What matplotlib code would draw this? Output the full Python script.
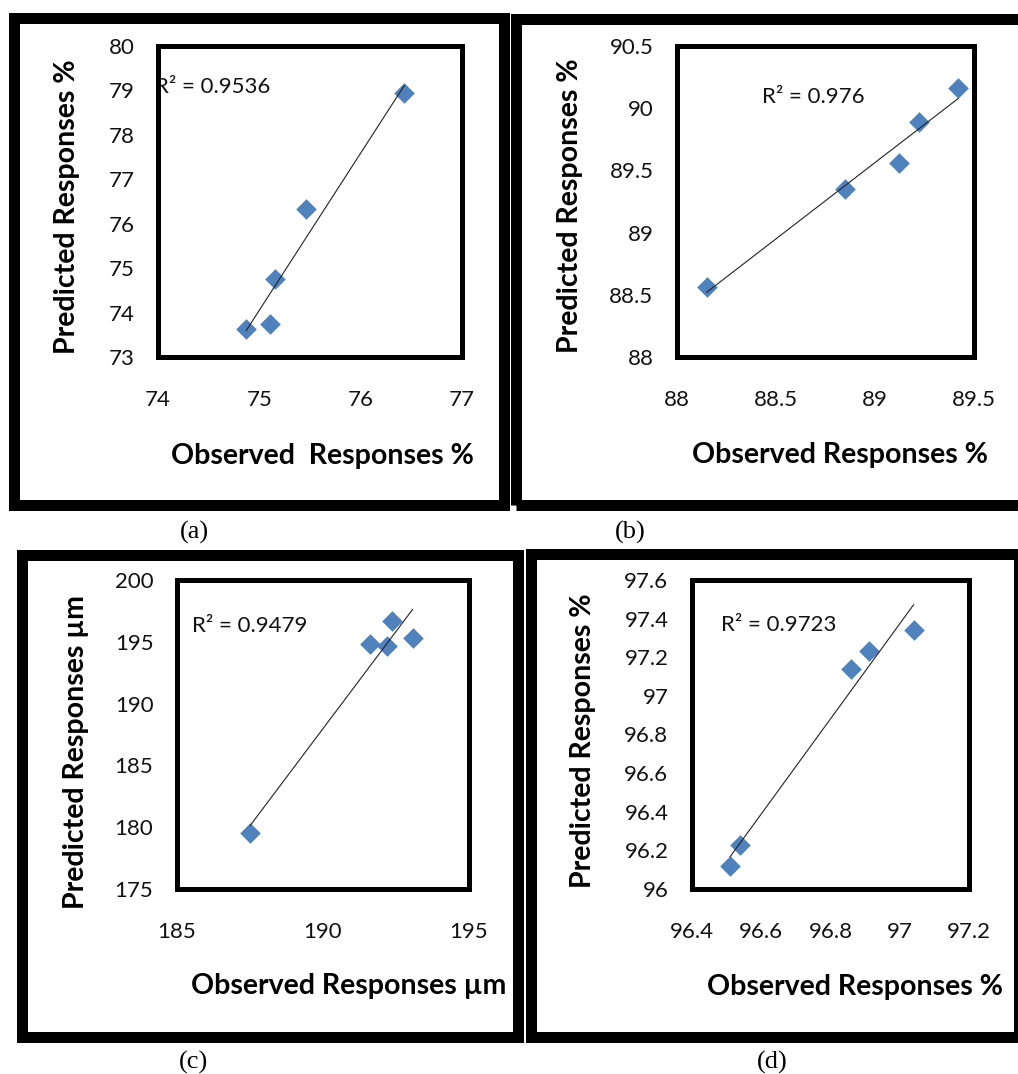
import numpy as np
import matplotlib.pyplot as plt
from matplotlib.patches import Rectangle
from matplotlib.ticker import FuncFormatter

# observed vs predicted responses for the four models
obs_a = [74.87, 75.11, 75.15, 75.46, 76.43]
pred_a = [73.64, 73.75, 74.75, 76.33, 78.94]
obs_b = [88.15, 88.85, 89.12, 89.22, 89.42]
pred_b = [88.56, 89.35, 89.56, 89.89, 90.16]
obs_c = [187.5, 191.6, 192.2, 192.35, 193.07]
pred_c = [179.5, 194.8, 194.7, 196.7, 195.3]
obs_d = [96.51, 96.54, 96.86, 96.91, 97.04]
pred_d = [96.12, 96.23, 97.14, 97.23, 97.34]

xticks_a = [74, 75, 76, 77]
yticks_a = [73, 74, 75, 76, 77, 78, 79, 80]
xticks_b = [88, 88.5, 89, 89.5]
yticks_b = [88, 88.5, 89, 89.5, 90, 90.5]
xticks_c = [185, 190, 195]
yticks_c = [175, 180, 185, 190, 195, 200]
xticks_d = [96.4, 96.6, 96.8, 97.0, 97.2]
yticks_d = [96.0, 96.2, 96.4, 96.6, 96.8, 97.0, 97.2, 97.4, 97.6]

r2_labels = ['0.9536', '0.976', '0.9479', '0.9723']
captions = ['(a)', '(b)', '(c)', '(d)']

W, H = 1018, 1074
fig = plt.figure(figsize=(W / 100, H / 100), dpi=100)

SANS = 'Lato'
SERIF = 'Liberation Serif'
BLUE = '#4F81BD'
TICK_FS = 16
LABEL_FS = 20.5


def fx(px):
    return px / W


def fy(py):
    return 1 - py / H


def frame(x0, y0, x1, y1, t=11):
    # thick black border drawn round each panel
    lw = t * 72 / 100
    r = Rectangle((fx(x0 + t / 2), fy(y1 - t / 2)), (x1 - x0 - t) / W, (y1 - y0 - t) / H,
                  transform=fig.transFigure, fill=False, edgecolor='black',
                  linewidth=lw, joinstyle='miter', clip_on=False)
    fig.add_artist(r)


def panel(box, obs, pred, xticks, yticks, r2, r2_xy, xlabel, xlab_xy, ylabel, ylab_xy):
    x0, y0, x1, y1 = box
    ax = fig.add_axes([fx(x0), fy(y1), (x1 - x0) / W, (y1 - y0) / H])
    ax.scatter(obs, pred, marker='D', s=10.5 ** 2, color=BLUE, linewidths=0, zorder=3)

    # linear trend line over the observed range
    k, b = np.polyfit(obs, pred, 1)
    xs = np.array([min(obs), max(obs)])
    ax.plot(xs, k * xs + b, color='#222222', linewidth=0.8, zorder=4)

    ax.set_xlim(xticks[0], xticks[-1])
    ax.set_ylim(yticks[0], yticks[-1])
    ax.set_xticks(xticks)
    ax.set_yticks(yticks)
    fmt = FuncFormatter(lambda v, p: '%g' % round(v, 3))
    ax.xaxis.set_major_formatter(fmt)
    ax.yaxis.set_major_formatter(fmt)
    ax.tick_params(axis='x', length=0, pad=24, labelsize=TICK_FS, labelcolor='#111111')
    ax.tick_params(axis='y', length=0, pad=17, labelsize=TICK_FS, labelcolor='#111111')
    for lab in ax.get_xticklabels() + ax.get_yticklabels():
        lab.set_fontfamily(SANS)
    for sp in ax.spines.values():
        sp.set_linewidth(3.6)
        sp.set_color('black')

    ax.text(fx(r2_xy[0]), fy(r2_xy[1]), 'R² = ' + r2, transform=fig.transFigure,
            fontsize=TICK_FS, family=SANS, color='#111111', ha='left', va='center', zorder=2)
    fig.text(fx(xlab_xy[0]), fy(xlab_xy[1]), xlabel, fontsize=LABEL_FS, fontweight='bold',
             family=SANS, ha='center', va='center')
    fig.text(fx(ylab_xy[0]), fy(ylab_xy[1]), ylabel, fontsize=LABEL_FS, fontweight='bold',
             family=SANS, ha='center', va='center', rotation=90)
    return ax


frame(8, 12, 509, 510)
frame(510, 13, 1030, 510)
frame(16, 549, 523, 1042)
frame(525, 548, 1024, 1042)

panel((158, 46, 462, 357), obs_a, pred_a, xticks_a, yticks_a, r2_labels[0], (155, 87),
      'Observed  Responses %', (322, 456), 'Predicted Responses %', (67, 207))
panel((677, 46, 974, 357), obs_b, pred_b, xticks_b, yticks_b, r2_labels[1], (762, 97),
      'Observed Responses %', (840, 455), 'Predicted Responses %', (570, 206))
panel((177, 580, 469, 889), obs_c, pred_c, xticks_c, yticks_c, r2_labels[2], (192, 626),
      'Observed Responses µm', (349, 986), 'Predicted Responses µm', (76, 752))
panel((692, 580, 969, 889), obs_d, pred_d, xticks_d, yticks_d, r2_labels[3], (721, 625),
      'Observed Responses %', (855, 987), 'Predicted Responses %', (583, 741))

for cap, (cx, cy) in zip(captions, [(194, 532), (630, 532), (193, 1062), (772, 1062)]):
    fig.text(fx(cx), fy(cy), cap, fontsize=19, family=SERIF, ha='center', va='center')

fig.savefig('out.png', dpi=100)
